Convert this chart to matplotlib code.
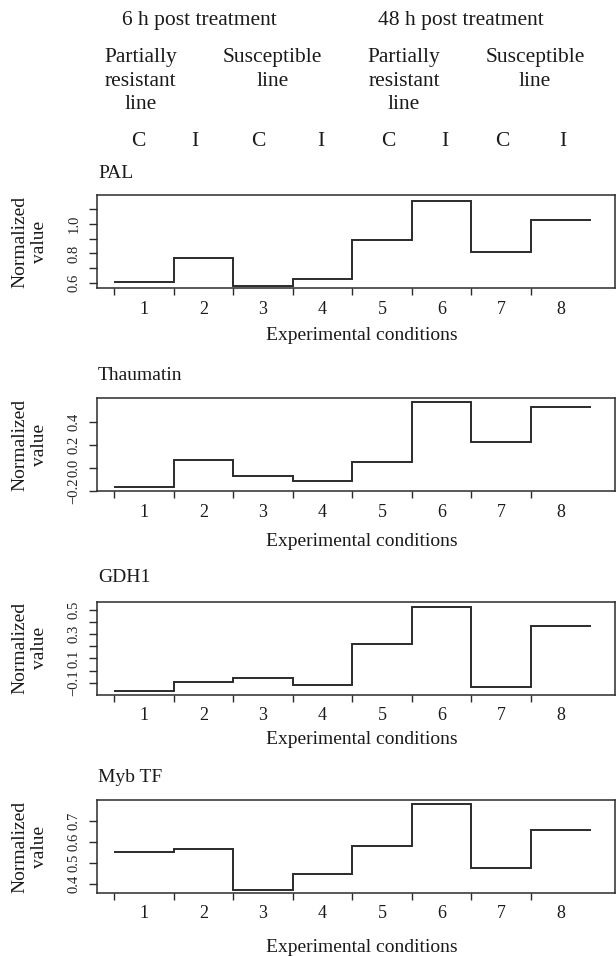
import numpy as np
import matplotlib
matplotlib.use("Agg")
import matplotlib.pyplot as plt

plt.rcParams['font.family'] = ['Liberation Serif', 'DejaVu Serif']

# ---------------- data ----------------
conditions = [1, 2, 3, 4, 5, 6, 7, 8]
genes = ["PAL", "Thaumatin", "GDH1", "Myb TF"]
pal = [0.61, 0.77, 0.582, 0.627, 0.887, 1.151, 0.809, 1.022]
thaumatin = [-0.166, 0.070, -0.070, -0.117, 0.050, 0.575, 0.228, 0.531]
gdh1 = [-0.172, -0.094, -0.061, -0.119, 0.219, 0.522, -0.138, 0.366]
myb = [0.553, 0.568, 0.373, 0.447, 0.579, 0.782, 0.477, 0.655]
series = [pal, thaumatin, gdh1, myb]

ylims = [(0.569, 1.191), (-0.204, 0.61), (-0.199, 0.568), (0.357, 0.799)]
yticks = [[0.6, 0.7, 0.8, 0.9, 1.0, 1.1],
          [-0.2, 0.0, 0.2, 0.4],
          [-0.1, 0.0, 0.1, 0.2, 0.3, 0.4, 0.5],
          [0.4, 0.5, 0.6, 0.7]]
ytick_labels = [["0.6", "", "0.8", "", "1.0", ""],
                ["\u22120.2", "0.0", "0.2", "0.4"],
                ["\u22120.1", "", "0.1", "", "0.3", "", "0.5"],
                ["0.4", "0.5", "0.6", "0.7"]]

time_labels = ["6 h post treatment", "48 h post treatment"]
line_labels = ["Partially\nresistant\nline", "Susceptible\nline",
               "Partially\nresistant\nline", "Susceptible\nline"]
treat_labels = ["C", "I", "C", "I", "C", "I", "C", "I"]
xlabel = "Experimental conditions"
ylabel = "Normalized\nvalue"

# ---------------- layout (pixels) ----------------
W, H = 616, 956
fig = plt.figure(figsize=(W / 100, H / 100), dpi=100)

box_top = [195, 398.3, 601.7, 800]
box_h = 93
ax_left, ax_right = 97, 615
xlab_off = [47, 50.5, 45, 55]
title_off = [22, 23, 24, 22]
xlab_center = 362

def fx(px):
    return px / W

def fy(py):
    return 1 - py / H

line_col = '#2b2b2b'
text_col = '#1a1a1a'
axes = []
for i, (vals, lim) in enumerate(zip(series, ylims)):
    ax = fig.add_axes([fx(ax_left), fy(box_top[i] + box_h), fx(ax_right) - fx(ax_left), box_h / H])
    edges = np.arange(0.5, len(conditions) + 1, 1.0)
    ax.stairs(vals, edges, baseline=None, color=line_col, lw=1.4)
    ax.set_xlim(0.215, 8.91)
    ax.set_ylim(*lim)
    # boundary ticks (no labels)
    ax.set_xticks(edges[:-1])
    ax.set_xticklabels([])
    ax.tick_params(axis='x', which='major', length=5, width=1, color=line_col, direction='out')
    # condition labels (no tick marks)
    ax.set_xticks(conditions, [str(c) for c in conditions], minor=True)
    ax.tick_params(axis='x', which='minor', length=0, pad=9, labelsize=13, labelcolor=text_col)
    ax.set_yticks(yticks[i])
    ax.set_yticklabels(ytick_labels[i])
    ax.tick_params(axis='y', length=6, width=1, color=line_col, pad=6, labelsize=10.5,
                   labelcolor='#222222')
    for lab in ax.get_yticklabels():
        lab.set_rotation(90)
        lab.set_va('center')
        lab.set_ha('right')
    for sp in ax.spines.values():
        sp.set_linewidth(1.1)
        sp.set_color(line_col)
    # title
    fig.text(fx(98), fy(box_top[i] - title_off[i]), genes[i], ha='left', va='center',
             fontsize=14, color=text_col)
    # x label
    fig.text(fx(xlab_center), fy(box_top[i] + box_h + xlab_off[i]), xlabel,
             ha='center', va='center', fontsize=14, color=text_col)
    # y label
    fig.text(fx(30), fy(box_top[i] + box_h / 2), ylabel, ha='center', va='center',
             rotation=90, fontsize=14, multialignment='center', linespacing=1.2,
             color=text_col)
    axes.append(ax)

# ---------------- header ----------------
time_x = [199, 461]
for t, x in zip(time_labels, time_x):
    fig.text(fx(x), fy(21), t, ha='center', va='center', fontsize=15.5, color=text_col)

line_x = [140.5, 272.5, 404, 535]
for t, x in zip(line_labels, line_x):
    fig.text(fx(x), fy(48), t, ha='center', va='top', fontsize=15.5, linespacing=1.33,
             multialignment='center', color=text_col)

treat_x = [138, 195, 258, 321, 388, 445, 502, 563]
for t, x in zip(treat_labels, treat_x):
    fig.text(fx(x), fy(141), t, ha='center', va='center', fontsize=15.5, color=text_col)

fig.savefig("out.png", dpi=100)
